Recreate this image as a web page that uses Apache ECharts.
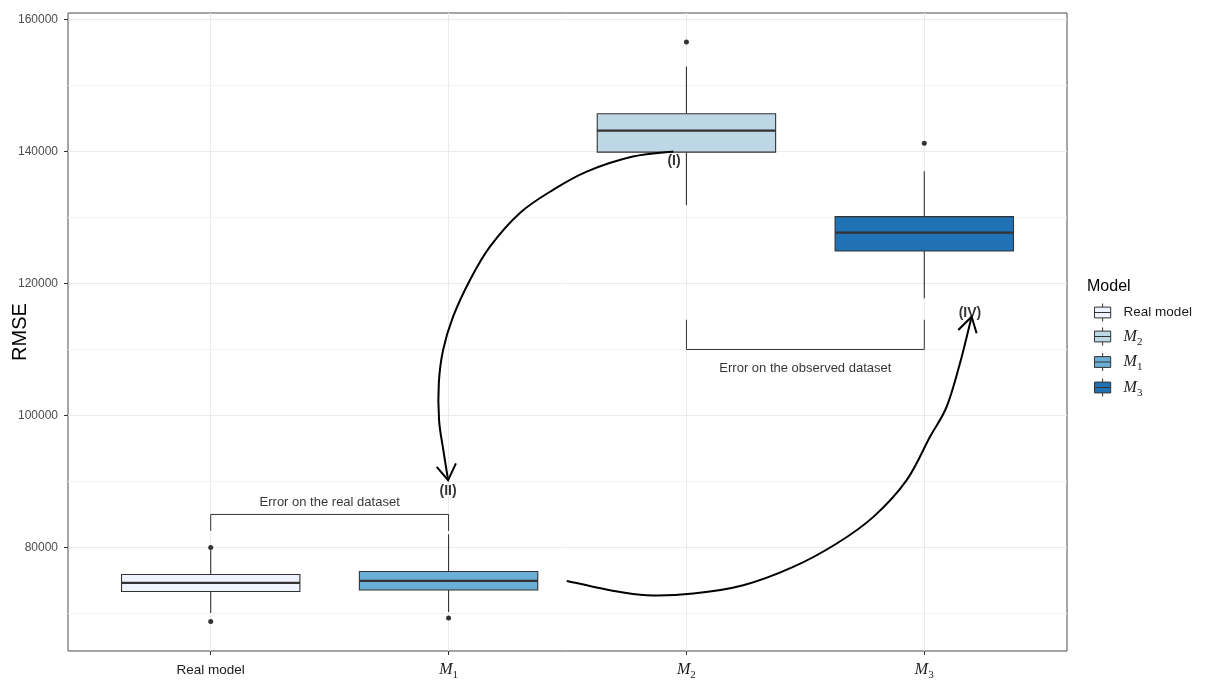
<!DOCTYPE html>
<html>
<head>
<meta charset="utf-8">
<script src="https://cdn.jsdelivr.net/npm/echarts@6/dist/echarts.min.js"></script>
<style>html,body{margin:0;padding:0;background:#fff}#c{width:1207px;height:683px}</style>
</head>
<body>
<div id="c"></div>
<script>
// ---- data ----
const categories = ['Real model', 'M1', 'M2', 'M3'];
const legendOrder = ['Real model', 'M2', 'M1', 'M3'];
const boxColors = ['#eff3ff', '#6baed6', '#bdd7e7', '#2171b5'];
const lowWhisker = [70066, 70218, 131914, 117761];
const q1 = [73312, 73555, 139909, 124936];
const median = [74617, 74920, 143186, 127713];
const q3 = [75890, 76347, 145719, 130140];
const highWhisker = [79578, 82000, 152895, 137027];
const outliers = [[80000, 68762], [69310], [156596], [141274]];
const yTicks = [80000, 100000, 120000, 140000, 160000];
const yMinor = [70000, 90000, 110000, 130000, 150000];

// annotations (data coordinates)
const bracketReal = [[1, 82500], [1, 85000], [2, 85000], [2, 82500]];
const bracketObs = [[3, 114500], [3, 110000], [4, 110000], [4, 114500]];
const arrow1 = [[2.945, 140000], [2.775, 139240], [2.581, 136966], [2.439, 134190], [2.300, 130700], [2.174, 125590], [2.090, 120540], [2.019, 114970], [1.977, 109920], [1.959, 104910], [1.960, 99300], [1.978, 94750], [1.998, 90200]];
const arrow1Head = [[1.950, 92210], [1.998, 90200], [2.031, 92730]];
const arrow2 = [[2.497, 74920], [2.679, 73510], [2.833, 72750], [3.029, 73010], [3.239, 74270], [3.449, 77045], [3.632, 80595], [3.786, 84630], [3.926, 90200], [4.024, 96765], [4.094, 101320], [4.150, 107900], [4.199, 114970]];
const arrow2Head = [[4.143, 112950], [4.199, 114970], [4.220, 112450]];
const arrowPaths = [arrow1, arrow2];
const romanLabels = [{ name: '(I)', value: [2.948, 138600] }, { name: '(II)', value: [1.998, 88600] }, { name: '(IV)', value: [4.192, 115530] }];
const bracketLabels = [{ name: 'Error on the real dataset', value: [1.5, 86750] }, { name: 'Error on the observed dataset', value: [3.5, 107150] }];

const subFmt = (name) => name.charAt(0) === 'M' ? '{m|M}{s|' + name.slice(1) + '}' : '{t|' + name + '}';

const chart = echarts.init(document.getElementById('c'), null, { renderer: 'canvas' });

function renderBox(params, api) {
  const x = api.value(0);
  const pLow = api.coord([x, api.value(1)]);
  const pQ1 = api.coord([x, api.value(2)]);
  const pMed = api.coord([x, api.value(3)]);
  const pQ3 = api.coord([x, api.value(4)]);
  const pHigh = api.coord([x, api.value(5)]);
  const hw = api.size([0.75, 0])[0] / 2;
  const stroke = '#333333';
  return {
    type: 'group',
    children: [
      { type: 'line', shape: { x1: pQ3[0], y1: pQ3[1], x2: pHigh[0], y2: pHigh[1] }, style: { stroke: stroke, lineWidth: 1.1 } },
      { type: 'line', shape: { x1: pQ1[0], y1: pQ1[1], x2: pLow[0], y2: pLow[1] }, style: { stroke: stroke, lineWidth: 1.1 } },
      { type: 'rect', shape: { x: pQ3[0] - hw, y: pQ3[1], width: hw * 2, height: pQ1[1] - pQ3[1] }, style: { fill: api.visual('color'), stroke: stroke, lineWidth: 1.1 } },
      { type: 'line', shape: { x1: pMed[0] - hw, y1: pMed[1], x2: pMed[0] + hw, y2: pMed[1] }, style: { stroke: stroke, lineWidth: 2.2 } }
    ]
  };
}

// smooth Catmull-Rom curve through annotation points
function renderArrow(params, api) {
  const pts = arrowPaths[api.value(0)].map(p => api.coord(p));
  let d = 'M' + pts[0][0] + ',' + pts[0][1];
  for (let i = 0; i < pts.length - 1; i++) {
    const p0 = pts[Math.max(i - 1, 0)], p1 = pts[i], p2 = pts[i + 1], p3 = pts[Math.min(i + 2, pts.length - 1)];
    const c1 = [p1[0] + (p2[0] - p0[0]) / 6, p1[1] + (p2[1] - p0[1]) / 6];
    const c2 = [p2[0] - (p3[0] - p1[0]) / 6, p2[1] - (p3[1] - p1[1]) / 6];
    d += 'C' + c1[0] + ',' + c1[1] + ' ' + c2[0] + ',' + c2[1] + ' ' + p2[0] + ',' + p2[1];
  }
  return { type: 'path', shape: { pathData: d }, style: { fill: 'none', stroke: '#000', lineWidth: 2 } };
}

const series = [];
// grid lines host
series.push({
  type: 'line', name: '_grid', data: [], z: 0, silent: true,
  markLine: {
    z: 0, silent: true, symbol: ['none', 'none'], label: { show: false }, animation: false,
    data: [
      ...yTicks.map(v => ({ yAxis: v, lineStyle: { color: '#ebebeb', width: 1, type: 'solid' } })),
      ...yMinor.map(v => ({ yAxis: v, lineStyle: { color: '#f2f2f2', width: 1, type: 'solid' } })),
      ...categories.map((c, i) => ({ xAxis: i + 1, lineStyle: { color: '#ebebeb', width: 1, type: 'solid' } }))
    ]
  }
});
categories.forEach((c, i) => {
  series.push({
    type: 'custom', name: c, z: 3,
    itemStyle: { color: boxColors[i] },
    renderItem: renderBox,
    encode: { x: 0, y: [1, 2, 3, 4, 5] },
    data: [[i + 1, lowWhisker[i], q1[i], median[i], q3[i], highWhisker[i]]]
  });
});
const outlierData = [];
outliers.forEach((arr, i) => arr.forEach(v => outlierData.push([i + 1, v])));
series.push({ type: 'scatter', name: '_out', z: 4, symbol: 'circle', symbolSize: 5, itemStyle: { color: '#333333', borderWidth: 0, opacity: 1 }, data: outlierData, silent: true });
// brackets
series.push({
  type: 'lines', name: '_br', coordinateSystem: 'cartesian2d', polyline: true, z: 4, silent: true,
  lineStyle: { color: '#333333', width: 1, opacity: 1 },
  data: [{ coords: bracketReal }, { coords: bracketObs }]
});
// arrows
series.push({ type: 'custom', name: '_arrows', z: 5, silent: true, renderItem: renderArrow, clip: false, data: [[0], [1]], encode: { x: -1, y: -1 } });
series.push({
  type: 'lines', name: '_heads', coordinateSystem: 'cartesian2d', polyline: true, z: 5, silent: true,
  lineStyle: { color: '#000', width: 2, opacity: 1 },
  data: [{ coords: arrow1Head }, { coords: arrow2Head }]
});
// texts
series.push({
  type: 'scatter', name: '_roman', symbolSize: 0, z: 6, silent: true, data: romanLabels,
  label: { show: true, position: 'inside', formatter: p => p.name, color: '#000', fontSize: 14, fontWeight: 'bold', fontFamily: 'Liberation Sans, Arial, sans-serif' }
});
series.push({
  type: 'scatter', name: '_brtext', symbolSize: 0, z: 6, silent: true, data: bracketLabels,
  label: { show: true, position: 'inside', formatter: p => p.name, color: '#000', fontSize: 13, fontFamily: 'Liberation Sans, Arial, sans-serif' }
});

const richM = {
  m: { fontFamily: 'Liberation Serif, DejaVu Serif, serif', fontStyle: 'italic', fontSize: 16, color: '#1a1a1a', lineHeight: 22, verticalAlign: 'middle' },
  s: { fontFamily: 'Liberation Serif, DejaVu Serif, serif', fontSize: 11, color: '#1a1a1a', lineHeight: 22, verticalAlign: 'bottom' },
  t: { fontFamily: 'Liberation Sans, Arial, sans-serif', fontSize: 13.5, color: '#1a1a1a', lineHeight: 22 }
};

const option = {
  animation: false,
  backgroundColor: '#ffffff',
  title: { text: 'Model', left: 1082, top: 274, textStyle: { fontSize: 16, fontWeight: 'normal', color: '#000', fontFamily: 'Liberation Sans, Arial, sans-serif' } },
  legend: {
    data: legendOrder,
    orient: 'vertical', left: 1089, top: 298,
    itemWidth: 20, itemHeight: 18, itemGap: 5,
    icon: 'path://M10,0L10,4M1,4L19,4L19,16L1,16ZM1,10L19,10M10,16L10,20',
    itemStyle: { borderColor: '#333333', borderWidth: 1 },
    formatter: subFmt,
    textStyle: { rich: richM, padding: [0, 0, 0, 6] },
    selectedMode: false
  },
  grid: { left: 68, right: 140, top: 13, bottom: 32, containLabel: false, outerBoundsMode: 'none', show: true, borderColor: '#4d4d4d', borderWidth: 1, backgroundColor: 'transparent' },
  xAxis: {
    type: 'value', min: 0.4, max: 4.6,
    axisLine: { show: false },
    splitLine: { show: false },
    axisTick: { show: true, customValues: [1, 2, 3, 4], length: 4, lineStyle: { color: '#333333' } },
    axisLabel: {
      customValues: [1, 2, 3, 4], margin: 8,
      formatter: v => subFmt(categories[Math.round(v) - 1] || ''),
      rich: richM
    }
  },
  yAxis: {
    type: 'value', min: 64300, max: 161000,
    name: 'RMSE', nameLocation: 'middle', nameGap: 38, nameMoveOverlap: false,
    nameTextStyle: { fontSize: 20, color: '#000', fontFamily: 'Liberation Sans, Arial, sans-serif' },
    axisLine: { show: false },
    splitLine: { show: false },
    axisTick: { show: true, customValues: yTicks, length: 4, lineStyle: { color: '#333333' } },
    axisLabel: { customValues: yTicks, margin: 10, fontSize: 12, color: '#4d4d4d', fontFamily: 'Liberation Sans, Arial, sans-serif', formatter: v => String(v) }
  },
  series: series
};
chart.setOption(option);
</script>
</body>
</html>
